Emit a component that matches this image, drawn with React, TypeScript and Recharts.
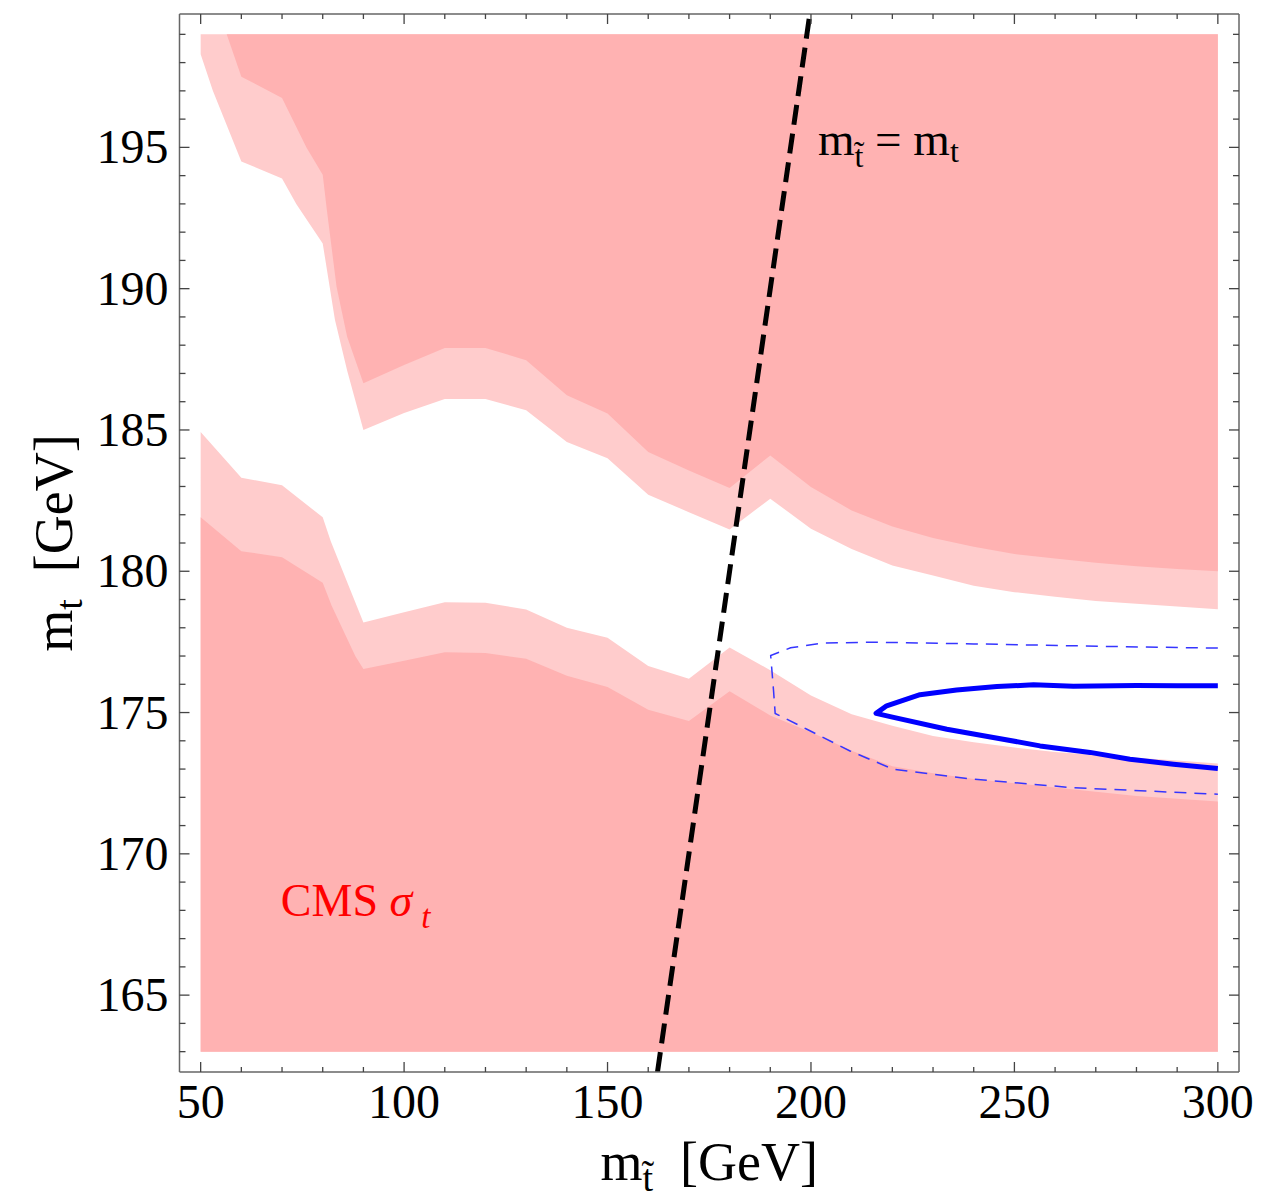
import React from "react";
import { ComposedChart, Area, Line, XAxis, YAxis, ReferenceDot } from "recharts";

// Excluded regions are drawn between these boundaries and the edge of the scan box.
const SCAN_TOP = 199;
const SCAN_BOTTOM = 163;

// upper region: lower edge of the light band (white / light pink)
const upperOuter: [number, number][] = [
  [50, 198.3], [53, 197.0], [60, 194.5], [70, 193.9], [73.5, 193.0], [80, 191.6],
  [83, 188.9], [86, 187.1], [90, 185.0], [100, 185.6], [110, 186.1], [120, 186.1],
  [130, 185.7], [140, 184.57], [150, 184.0], [160, 182.71], [170, 182.09], [180, 181.48],
  [190, 182.57], [200, 181.5], [210, 180.79], [220, 180.2], [230, 179.85], [240, 179.49],
  [250, 179.26], [260, 179.1], [270, 178.95], [280, 178.85], [290, 178.75], [300, 178.66],
];

// upper region: edge of the dark core (light / dark pink)
const upperInner: [number, number][] = [
  [56.4, 199.0], [60, 197.5], [70, 196.75], [76, 195.0], [80, 194.03], [81, 192.8],
  [83.4, 190.07], [86, 188.3], [90, 186.65], [100, 187.3], [110, 187.9], [120, 187.9],
  [130, 187.47], [140, 186.23], [150, 185.58], [160, 184.22], [170, 183.57], [180, 182.95],
  [190, 184.1], [200, 182.98], [210, 182.15], [220, 181.58], [230, 181.18], [240, 180.87],
  [250, 180.61], [260, 180.45], [270, 180.3], [280, 180.18], [290, 180.08], [300, 180.0],
];

// lower region: upper edge of the light band
const lowerOuter: [number, number][] = [
  [50, 184.93], [60, 183.31], [70, 183.04], [80, 181.91], [82, 181.05], [88, 178.9],
  [90, 178.19], [100, 178.55], [110, 178.9], [120, 178.89], [130, 178.65], [140, 178.0],
  [150, 177.65], [160, 176.65], [170, 176.2], [180, 177.3], [190, 176.5], [200, 175.6],
  [210, 174.94], [220, 174.53], [230, 174.17], [240, 173.95], [250, 173.76], [260, 173.6],
  [270, 173.5], [280, 173.4], [290, 173.3], [300, 173.2],
];

// lower region: upper edge of the dark core
const lowerInner: [number, number][] = [
  [50, 181.91], [60, 180.71], [70, 180.5], [80, 179.59], [82.2, 178.78], [88, 177.0],
  [90, 176.54], [100, 176.83], [110, 177.13], [120, 177.11], [130, 176.9], [140, 176.3],
  [150, 175.9], [160, 175.1], [170, 174.7], [180, 175.75], [190, 174.9], [200, 174.3],
  [210, 173.65], [220, 173.1], [230, 172.85], [240, 172.65], [250, 172.5], [260, 172.35],
  [270, 172.2], [280, 172.05], [290, 171.95], [300, 171.85],
];

// m_stop = m_top
const diagonal: [number, number][] = [[162.28, 162.28], [199.72, 199.72]];

// blue contours (ordered along the path)
const contourDashed: [number, number][] = [
  [300, 177.28], [272.7, 177.34], [240, 177.43], [215, 177.49], [203, 177.46], [195, 177.29],
  [190.1, 177.02], [190.8, 175.78], [191.2, 174.97], [199, 174.41], [209.6, 173.64],
  [220.3, 172.99], [240, 172.64], [264.5, 172.34], [300, 172.11],
];
const contourSolid: [number, number][] = [
  [300, 175.95], [290, 175.95], [280, 175.96], [264.5, 175.93], [254.7, 175.98], [245.7, 175.92],
  [235.8, 175.8], [226.8, 175.63], [218.6, 175.24], [216, 174.97], [220.3, 174.83],
  [233.4, 174.41], [244.8, 174.12], [256.3, 173.82], [268.6, 173.59], [278.4, 173.35],
  [289.1, 173.17], [300, 173.02],
];

const xTicks = [50, 60, 70, 80, 90, 100, 110, 120, 130, 140, 150, 160, 170, 180, 190, 200,
  210, 220, 230, 240, 250, 260, 270, 280, 290, 300];
const yTicks = [163, 164, 165, 166, 167, 168, 169, 170, 171, 172, 173, 174, 175, 176, 177, 178,
  179, 180, 181, 182, 183, 184, 185, 186, 187, 188, 189, 190, 191, 192, 193, 194, 195, 196,
  197, 198, 199];

const pts = (a: [number, number][]) => a.map(([x, y]) => ({ x, y }));

const SERIF = "'Liberation Serif', 'Times New Roman', serif";
const DARK = "#FFB2B2";
const LIGHT = "#FFCCCC";
const AXIS = "#666";
const TICKC = "#444";

const BottomTick = (p: any) => {
  const v = p.payload.value;
  const major = v % 50 === 0;
  return (
    <g>
      <line x1={p.x} x2={p.x} y1={p.y} y2={p.y - (major ? 10 : 5)} stroke={TICKC} strokeWidth={1.3} />
      {major && (
        <text x={p.x} y={p.y + 46} textAnchor="middle" fontSize={48} fontFamily={SERIF} fill="#000">
          {v}
        </text>
      )}
    </g>
  );
};

const TopTick = (p: any) => {
  const major = p.payload.value % 50 === 0;
  return <line x1={p.x} x2={p.x} y1={p.y} y2={p.y + (major ? 10 : 5)} stroke={TICKC} strokeWidth={1.3} />;
};

const LeftTick = (p: any) => {
  const v = p.payload.value;
  const major = v % 5 === 0;
  return (
    <g>
      <line x1={p.x} x2={p.x + (major ? 10 : 6)} y1={p.y} y2={p.y} stroke={TICKC} strokeWidth={1.3} />
      {major && (
        <text x={p.x - 11} y={p.y + 16} textAnchor="end" fontSize={48} fontFamily={SERIF} fill="#000">
          {v}
        </text>
      )}
    </g>
  );
};

const RightTick = (p: any) => {
  const major = p.payload.value % 5 === 0;
  return <line x1={p.x} x2={p.x - (major ? 10 : 6)} y1={p.y} y2={p.y} stroke={TICKC} strokeWidth={1.3} />;
};

const XTitle = (p: any) => {
  const vb = p.viewBox || {};
  return (
    <text x={vb.x + vb.width / 2} y={vb.y + 108} textAnchor="middle" fontSize={54} fontFamily={SERIF} fill="#000" style={{ whiteSpace: "pre" }}>
      <tspan>m</tspan>
      <tspan fontSize={38} dy={11}>{"t\u0303"}</tspan>
      <tspan dy={-11}>{"  [GeV]"}</tspan>
    </text>
  );
};

const YTitle = (p: any) => {
  const vb = p.viewBox || {};
  const cx = 64;
  const cy = vb.y + vb.height / 2;
  return (
    <text transform={`translate(${cx},${cy}) rotate(-90)`} textAnchor="middle" fontSize={54} fontFamily={SERIF} fill="#000" style={{ whiteSpace: "pre" }}>
      <tspan>m</tspan>
      <tspan fontSize={38} dy={10}>t</tspan>
      <tspan dy={-10}>{"  [GeV]"}</tspan>
    </text>
  );
};

const EqualityLabel = (p: any) => {
  const vb = p.viewBox || {};
  return (
    <text x={vb.x} y={vb.y} fontSize={47} fontFamily={SERIF} fill="#000" style={{ whiteSpace: "pre" }}>
      <tspan>m</tspan>
      <tspan fontSize={32} dy={12}>{"t\u0303"}</tspan>
      <tspan dy={-12}>{" = m"}</tspan>
      <tspan fontSize={32} dy={7}>t</tspan>
    </text>
  );
};

const CmsLabel = (p: any) => {
  const vb = p.viewBox || {};
  return (
    <text x={vb.x} y={vb.y} fontSize={46} fontFamily={SERIF} fill="#FF0000" style={{ whiteSpace: "pre" }}>
      <tspan>{"CMS "}</tspan>
      <tspan fontStyle="italic">{"\u03C3"}</tspan>
      <tspan fontSize={33} fontStyle="italic" dx={9} dy={12}>t</tspan>
    </text>
  );
};

export default function App() {
  return (
    <div style={{ width: 1250, height: 1193 }}>
      <ComposedChart width={1250} height={1193} margin={{ top: 5, right: 18, bottom: 9, left: 0 }}>
        <XAxis
          xAxisId={0}
          type="number"
          dataKey="x"
          domain={[44.8, 305.2]}
          allowDataOverflow
          ticks={xTicks}
          interval={0}
          height={120}
          tickSize={0}
          tickMargin={0}
          tick={<BottomTick />}
          axisLine={{ stroke: AXIS, strokeWidth: 1.5 }}
          label={XTitle}
        />
        <XAxis
          xAxisId="top"
          orientation="top"
          type="number"
          dataKey="x"
          domain={[44.8, 305.2]}
          allowDataOverflow
          ticks={xTicks}
          interval={0}
          height={1}
          tickSize={0}
          tickMargin={0}
          tick={<TopTick />}
          axisLine={{ stroke: AXIS, strokeWidth: 1.5 }}
        />
        <YAxis
          yAxisId={0}
          type="number"
          domain={[162.28, 199.72]}
          allowDataOverflow
          ticks={yTicks}
          interval={0}
          width={171.5}
          tickSize={0}
          tickMargin={0}
          tick={<LeftTick />}
          axisLine={{ stroke: AXIS, strokeWidth: 1.5 }}
          label={YTitle}
        />
        <YAxis
          yAxisId="right"
          orientation="right"
          type="number"
          domain={[162.28, 199.72]}
          allowDataOverflow
          ticks={yTicks}
          interval={0}
          width={1}
          tickSize={0}
          tickMargin={0}
          tick={<RightTick />}
          axisLine={{ stroke: AXIS, strokeWidth: 1.5 }}
        />

        <Area data={pts(upperOuter)} dataKey={(d: any) => [d.y, SCAN_TOP]} type="linear" stroke="none" fill={LIGHT} fillOpacity={1} isAnimationActive={false} />
        <Area data={pts(upperInner)} dataKey={(d: any) => [d.y, SCAN_TOP]} type="linear" stroke="none" fill={DARK} fillOpacity={1} isAnimationActive={false} />
        <Area data={pts(lowerOuter)} dataKey={(d: any) => [SCAN_BOTTOM, d.y]} type="linear" stroke="none" fill={LIGHT} fillOpacity={1} isAnimationActive={false} />
        <Area data={pts(lowerInner)} dataKey={(d: any) => [SCAN_BOTTOM, d.y]} type="linear" stroke="none" fill={DARK} fillOpacity={1} isAnimationActive={false} />

        <Line data={pts(contourDashed)} dataKey="y" type="linear" stroke="#3535ff" strokeWidth={1.5} strokeDasharray="12 8" dot={false} isAnimationActive={false} />
        <Line data={pts(contourSolid)} dataKey="y" type="linear" stroke="#0000FF" strokeWidth={5} dot={false} strokeLinejoin="round" isAnimationActive={false} />
        <Line data={pts(diagonal)} dataKey="y" type="linear" stroke="#000" strokeWidth={5} strokeDasharray="20 9" dot={false} isAnimationActive={false} />

        <ReferenceDot x={201.7} y={194.74} r={0} fill="none" stroke="none" label={EqualityLabel} />
        <ReferenceDot x={69.7} y={167.79} r={0} fill="none" stroke="none" label={CmsLabel} />
      </ComposedChart>
    </div>
  );
}
